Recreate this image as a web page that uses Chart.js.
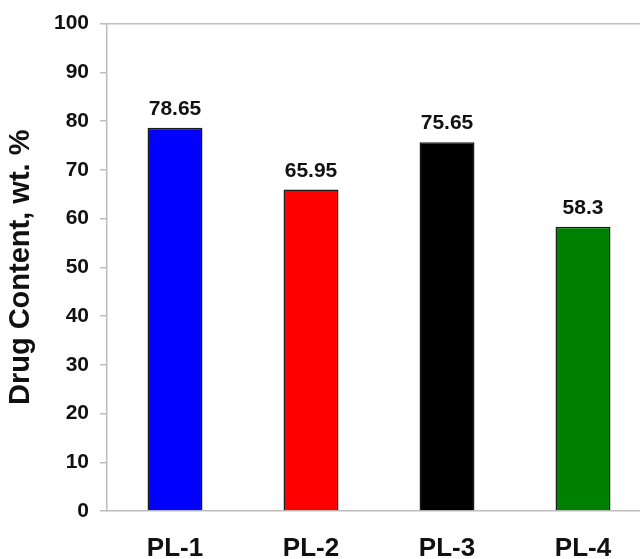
<!DOCTYPE html>
<html>
<head>
<meta charset="utf-8">
<script src="https://cdn.jsdelivr.net/npm/chart.js@4/dist/chart.umd.min.js"></script>
<style>
  html, body { margin: 0; padding: 0; background: #fff; overflow: hidden; }
  #wrap { width: 660px; height: 559px; }
</style>
</head>
<body>
<div id="wrap"><canvas id="drugChart"></canvas></div>
<script>
const samples = ["PL-1", "PL-2", "PL-3", "PL-4"];
const drugContent = [78.65, 65.95, 75.65, 58.3];
const barColors = ["#0000ff", "#ff0000", "#000000", "#008000"];

const FONT = "'Liberation Sans', Arial, sans-serif";

// prints each bar's value just above it
const valueLabels = {
  id: "valueLabels",
  afterDatasetsDraw(chart) {
    const ctx = chart.ctx;
    const meta = chart.getDatasetMeta(0);
    ctx.save();
    ctx.font = "bold 21px " + FONT;
    ctx.fillStyle = "#111";
    ctx.textAlign = "center";
    ctx.textBaseline = "alphabetic";
    meta.data.forEach((bar, i) => {
      ctx.fillText(String(drugContent[i]), bar.x, bar.y - 13);
    });
    ctx.restore();
  }
};

new Chart(document.getElementById("drugChart"), {
  type: "bar",
  data: {
    labels: samples,
    datasets: [{
      data: drugContent,
      backgroundColor: barColors,
      borderColor: "#1a1a1a",
      borderWidth: 1.5,
      categoryPercentage: 1,
      barPercentage: 0.404
    }]
  },
  options: {
    responsive: true,
    maintainAspectRatio: false,
    animation: false,
    layout: { padding: { left: 4, right: 9, top: 23, bottom: 0 } },
    plugins: {
      legend: { display: false },
      tooltip: { enabled: false }
    },
    scales: {
      x: {
        afterFit(scale) { scale.height = 48; },
        grid: { display: false, drawTicks: false },
        border: { color: "#bdbdbd", width: 1.5 },
        ticks: {
          color: "#111",
          font: { family: FONT, weight: "bold", size: 26 },
          padding: 22
        }
      },
      y: {
        min: 0,
        max: 100,
        afterFit(scale) { scale.width = 103; },
        border: { color: "#bdbdbd", width: 1.5 },
        grid: {
          color: (c) => c.tick && c.tick.value === 100 ? "#bdbdbd" : "rgba(0,0,0,0)",
          lineWidth: 1.5,
          tickColor: "#bdbdbd",
          tickLength: 7,
          drawTicks: true
        },
        ticks: {
          stepSize: 10,
          color: "#111",
          font: { family: FONT, weight: "bold", size: 21 },
          padding: 11
        },
        title: {
          display: true,
          text: "Drug Content, wt. %",
          color: "#111",
          font: { family: FONT, weight: "bold", size: 29 },
          padding: { top: 0, bottom: 0 }
        }
      }
    }
  },
  plugins: [valueLabels]
});
</script>
</body>
</html>
